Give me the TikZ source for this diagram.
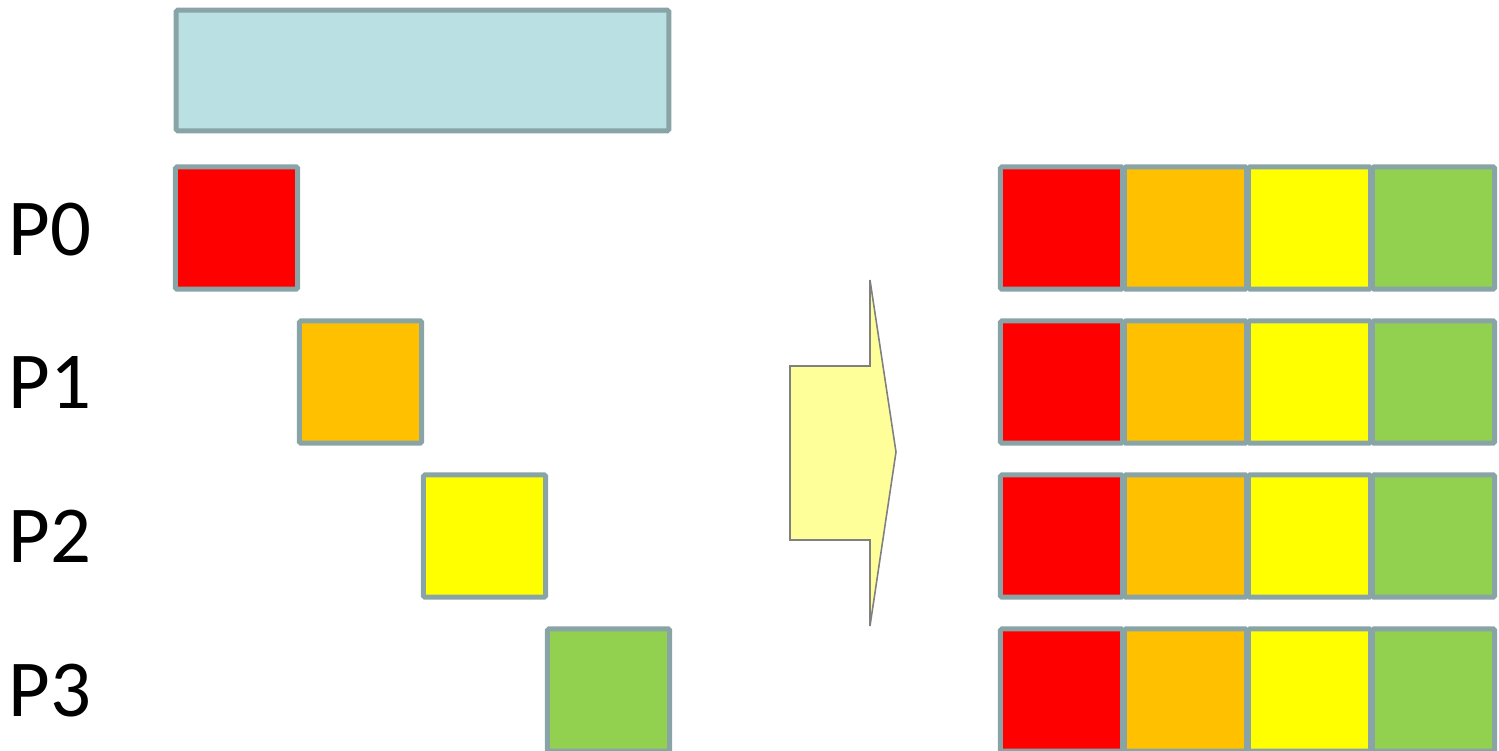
\documentclass[tikz,border=0pt]{standalone}
\usepackage{fontspec}
\setmainfont{Carlito}
\usetikzlibrary{positioning}
\definecolor{blkedge}{HTML}{88A4A7}
\definecolor{blkbar}{HTML}{BBE0E3}
\definecolor{blkred}{HTML}{FF0000}
\definecolor{blkorange}{HTML}{FFC000}
\definecolor{blkyellow}{HTML}{FFFF00}
\definecolor{blkgreen}{HTML}{92D050}
\definecolor{arrfill}{HTML}{FFFF99}
\definecolor{arredge}{HTML}{808080}

\begin{document}
\begin{tikzpicture}[x=0.02cm, y=-0.02cm,
          blk/.style={draw=blkedge, line width=0.1cm, rounded corners=1pt, minimum size=2.45cm, inner sep=0pt},
          lbl/.style={font=\fontsize{46}{54}\selectfont, anchor=base west, inner sep=0pt}]
          \useasboundingbox (0,0) rectangle (1499,751);
          % buffer on top
          \node[blk, fill=blkbar, minimum width=9.86cm, minimum height=2.42cm] (buf) at (422.5,70.5) {};
          % one block per process
          \node[lbl] (l0) at (8,255) {P0};
          \node[lbl] (l1) at (8,408) {P1};
          \node[lbl] (l2) at (8,562) {P2};
          \node[lbl] (l3) at (8,716) {P3};
          \node[blk, fill=blkred] (s0) at (236.5,228) {};
          \node[blk, fill=blkorange] (s1) at (360.5,382) {};
          \node[blk, fill=blkyellow] (s2) at (484.5,536) {};
          \node[blk, fill=blkgreen] (s3) at (608.5,690) {};
          % gathered result on every process
          \foreach \r/\y in {0/228,1/382,2/536,3/690} {
            \node[blk, fill=blkred] (g\r0) at (1061.5,\y) {};
            \node[blk, fill=blkorange] (g\r1) at (1185.5,\y) {};
            \node[blk, fill=blkyellow] (g\r2) at (1309.5,\y) {};
            \node[blk, fill=blkgreen] (g\r3) at (1433.5,\y) {};
          }
          % block arrow
          \draw[draw=arredge, fill=arrfill, line width=0.9pt]
            (870,280) -- (870,366) -- (790,366) -- (790,540) -- (870,540) -- (870,626) -- (896,452) -- cycle;
        \end{tikzpicture}
\end{document}
